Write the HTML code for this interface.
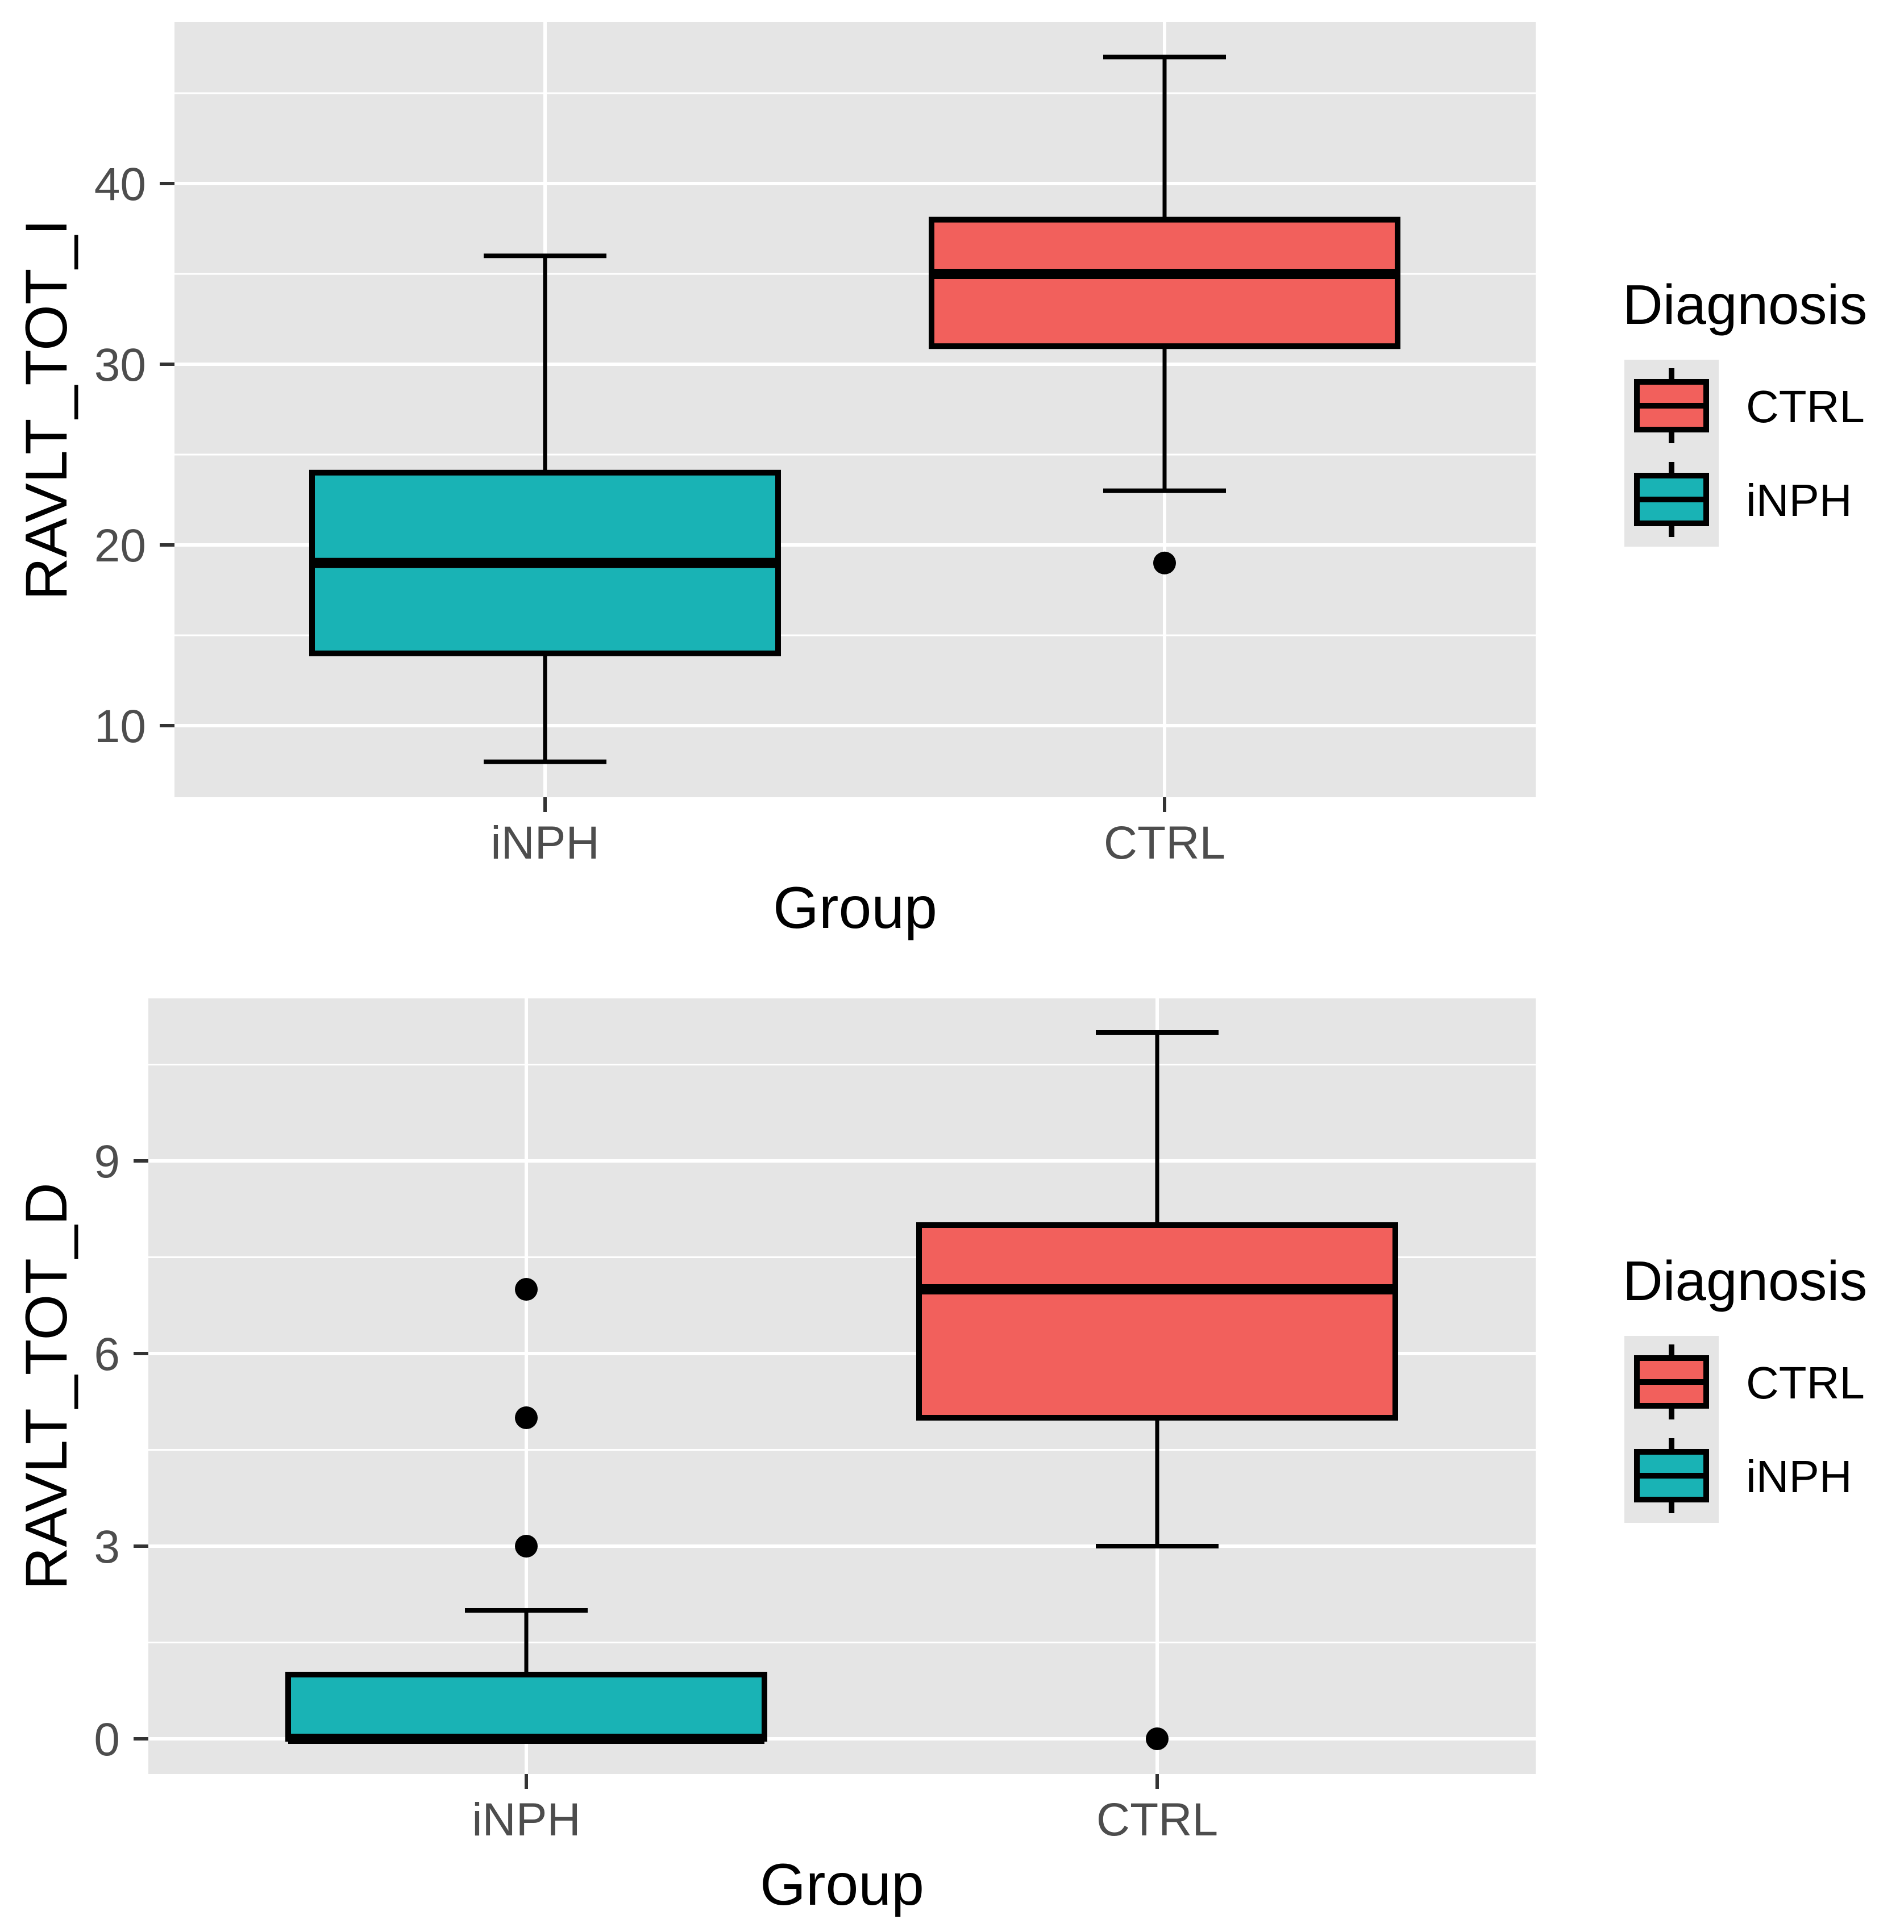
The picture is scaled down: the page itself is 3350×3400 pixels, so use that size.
<!DOCTYPE html>
<html><head><meta charset="utf-8"><style>
html,body{margin:0;padding:0;background:#fff}
svg{display:block;font-family:"Liberation Sans",Arial,sans-serif}
</style></head><body>
<svg id="chart" width="3350" height="3400" viewBox="0 0 3350 3400" xmlns="http://www.w3.org/2000/svg"></svg>
<script>
// ---- data ----
const categories = ["iNPH", "CTRL"];
const topLow = [8, 23];
const topQ1 = [14, 31];
const topMed = [19, 35];
const topQ3 = [24, 38];
const topHigh = [36, 47];
const topOutliers = [[], [19]];
const topTicks = [10, 20, 30, 40];
const topTickLabels = ["10", "20", "30", "40"];

const botLow = [0, 3];
const botQ1 = [0, 5];
const botMed = [0, 7];
const botQ3 = [1, 8];
const botHigh = [2, 11];
const botOutliers = [[3, 5, 7], [0]];
const botTicks = [0, 3, 6, 9];
const botTickLabels = ["0", "3", "6", "9"];

const fills = {iNPH: "#19B3B5", CTRL: "#F2605C"};
const legendOrder = ["CTRL", "iNPH"];

const NS = "http://www.w3.org/2000/svg";
const svg = document.getElementById("chart");
function mk(tag, attrs, parent) {
  const e = document.createElementNS(NS, tag);
  for (const k in attrs) e.setAttribute(k, attrs[k]);
  (parent || svg).appendChild(e);
  return e;
}

function panel(cfg) {
  const g = mk("g", {});
  
  
  const y = v => cfg.y0 - (v - cfg.v0) * cfg.ppu;
  const xs = cfg.xc;
  const bg = mk("rect", {x: cfg.left, y: cfg.top, width: cfg.right - cfg.left, height: cfg.bottom - cfg.top, fill: "#E5E5E5"}, g);
  
  
  for (let i = 0; i < cfg.ticks.length + 1; i++) {
    const v = (i < cfg.ticks.length ? cfg.ticks[i] : cfg.ticks[cfg.ticks.length - 1] + cfg.step) - cfg.step / 2;
    const yy = y(v);
    if (yy < cfg.top || yy > cfg.bottom) continue;
    const l = mk("line", {x1: cfg.left, x2: cfg.right, y1: yy, y2: yy, stroke: "#fff", "stroke-width": 3}, g);
    
    
  }
  cfg.ticks.forEach((v, i) => {
    const yy = y(v);
    const l = mk("line", {x1: cfg.left, x2: cfg.right, y1: yy, y2: yy, stroke: "#fff", "stroke-width": 6}, g);
    
    
    const t = mk("line", {x1: cfg.left - 26, x2: cfg.left, y1: yy, y2: yy, stroke: "#333", "stroke-width": 6}, g);
    
    
    const tx = mk("text", {x: cfg.left - 50, y: yy + 29, "text-anchor": "end", "font-size": 82, fill: "#4D4D4D"}, g);
    tx.textContent = cfg.tickLabels[i];
    
    
  });
  categories.forEach((c, i) => {
    const x = xs[i];
    const vl = mk("line", {x1: x, x2: x, y1: cfg.top, y2: cfg.bottom, stroke: "#fff", "stroke-width": 6}, g);
    
    
    const t = mk("line", {x1: x, x2: x, y1: cfg.bottom, y2: cfg.bottom + 26, stroke: "#333", "stroke-width": 6}, g);
    
    
    const tx = mk("text", {x: x, y: cfg.bottom + 108, "text-anchor": "middle", "font-size": 82, fill: "#4D4D4D"}, g);
    tx.textContent = c;
    
    
  });
  categories.forEach((c, i) => {
    const x = xs[i], hw = cfg.hw, cw = 108;
    const bx = mk("g", {}, g);
    
    
    mk("line", {x1: x, x2: x, y1: y(cfg.q3[i]), y2: y(cfg.high[i]), stroke: "#000", "stroke-width": 7}, bx);
    mk("line", {x1: x, x2: x, y1: y(cfg.q1[i]), y2: y(cfg.low[i]), stroke: "#000", "stroke-width": 7}, bx);
    mk("line", {x1: x - cw, x2: x + cw, y1: y(cfg.high[i]), y2: y(cfg.high[i]), stroke: "#000", "stroke-width": 8}, bx);
    mk("line", {x1: x - cw, x2: x + cw, y1: y(cfg.low[i]), y2: y(cfg.low[i]), stroke: "#000", "stroke-width": 8}, bx);
    mk("rect", {x: x - hw, y: y(cfg.q3[i]), width: 2 * hw, height: y(cfg.q1[i]) - y(cfg.q3[i]), fill: fills[c], stroke: "#000", "stroke-width": 10}, bx);
    mk("line", {x1: x - hw, x2: x + hw, y1: y(cfg.med[i]), y2: y(cfg.med[i]), stroke: "#000", "stroke-width": 18}, bx);
    cfg.out[i].forEach(v => {
      const p = mk("circle", {cx: x, cy: y(v), r: 20, fill: "#000"}, bx);
      
      
    });
  });
  const xt = mk("text", {x: (cfg.left + cfg.right) / 2, y: cfg.bottom + 230, "text-anchor": "middle", "font-size": 104, fill: "#000"}, g);
  xt.textContent = "Group";
  
  
  const cy = (cfg.top + cfg.bottom) / 2;
  const yt = mk("text", {x: 0, y: 0, transform: `translate(117 ${cy}) rotate(-90)`, "text-anchor": "middle", "font-size": 104, fill: "#000"}, g);
  yt.textContent = cfg.ytitle;
  
  
  const lg = mk("g", {}, g);
  
  
  const L = cfg.legTop;
  const tt = mk("text", {x: 2855, y: L, "font-size": 98, fill: "#000"}, lg);
  tt.textContent = "Diagnosis";
  
  
  mk("rect", {x: 2858, y: L + 63, width: 166, height: 329, fill: "#E5E5E5"}, lg);
  legendOrder.forEach((c, i) => {
    const cyk = L + 144 + i * 165;
    const e = mk("g", {}, lg);
    
    
    mk("line", {x1: 2941, x2: 2941, y1: cyk - 66, y2: cyk + 66, stroke: "#000", "stroke-width": 10}, e);
    mk("rect", {x: 2880, y: cyk - 42, width: 122, height: 84, fill: fills[c], stroke: "#000", "stroke-width": 10}, e);
    mk("line", {x1: 2880, x2: 3002, y1: cyk, y2: cyk, stroke: "#000", "stroke-width": 10}, e);
    const t = mk("text", {x: 3072, y: cyk + 29, "font-size": 80, fill: "#000"}, e);
    t.textContent = c;
  });
}

panel({name: "panel-ravlt-tot-i", left: 307, right: 2702, top: 39, bottom: 1403,
  y0: 323, v0: 40, ppu: 31.8, step: 10, ticks: topTicks, tickLabels: topTickLabels,
  xc: [959, 2049], hw: 410, low: topLow, q1: topQ1, med: topMed, q3: topQ3, high: topHigh, out: topOutliers,
  ytitle: "RAVLT_TOT_I", legTop: 570});
panel({name: "panel-ravlt-tot-d", left: 261, right: 2702, top: 1757, bottom: 3122,
  y0: 3060, v0: 0, ppu: 113, step: 3, ticks: botTicks, tickLabels: botTickLabels,
  xc: [926, 2036], hw: 419, low: botLow, q1: botQ1, med: botMed, q3: botQ3, high: botHigh, out: botOutliers,
  ytitle: "RAVLT_TOT_D", legTop: 2288});
</script>
</body></html>
